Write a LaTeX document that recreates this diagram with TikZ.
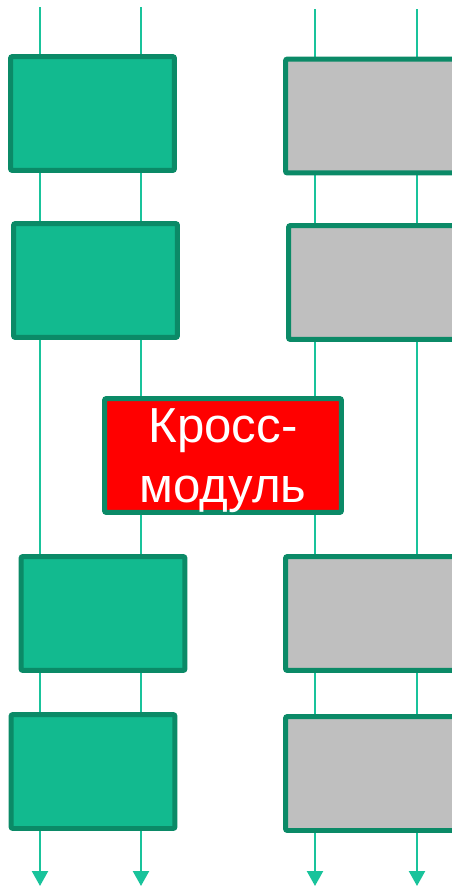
\documentclass[tikz,border=0pt]{standalone}
\usepackage{fontspec}
\newfontfamily\modfont{Liberation Sans}
\usepackage{xcolor}
\usetikzlibrary{arrows.meta}

\definecolor{modgreen}{RGB}{18,186,143}
\definecolor{modedge}{RGB}{11,138,103}
\definecolor{modgray}{RGB}{191,191,191}
\definecolor{wire}{RGB}{25,195,155}

\tikzset{
	modbox/.style = {draw = modedge, line width = 0.1cm, rounded corners = 0.04cm,
		minimum width = 3.28cm, minimum height = 2.28cm, inner sep = 0pt},
	greenbox/.style = {modbox, fill = modgreen},
	graybox/.style = {modbox, fill = modgray, minimum width = 3.4cm},
	crossbox/.style = {modbox, fill = red, minimum width = 4.74cm, text = white,
		align = center, text depth = 0pt, font = \modfont\fontsize{28}{34}\selectfont},
	wireline/.style = {draw = wire, line width = 0.045cm, -{Triangle[width = 0.32cm, length = 0.3cm]}}
}

\begin{document}
\begin{tikzpicture}[x = 0.02cm, y = -0.02cm]
	\useasboundingbox (0,0) rectangle (452,887);
	
	\foreach \n/\x/\t in {a/40/7, b/141/7, c/315/9, d/417/9}{
		\coordinate (\n top) at (\x,\t);
		\coordinate (\n end) at (\x,886);
		\draw [wireline] (\n top) -- (\n end);
	}
	
	\node [greenbox] (left1) at (92.5,113.5) {};
	\node [greenbox] (left2) at (95.5,280.5) {};
	\node [greenbox] (left3) at (103,613.5) {};
	\node [greenbox] (left4) at (93,771.5) {};
	
	\node [graybox] (right1) at (370.5,116) {};
	\node [graybox] (right2) at (373.5,282.5) {};
	\node [graybox] (right3) at (370.5,613.5) {};
	\node [graybox] (right4) at (370.5,773.5) {};
	
	\node [crossbox] (cross) at (223,455.5) {Кросс-\\модуль};
\end{tikzpicture}
\end{document}
